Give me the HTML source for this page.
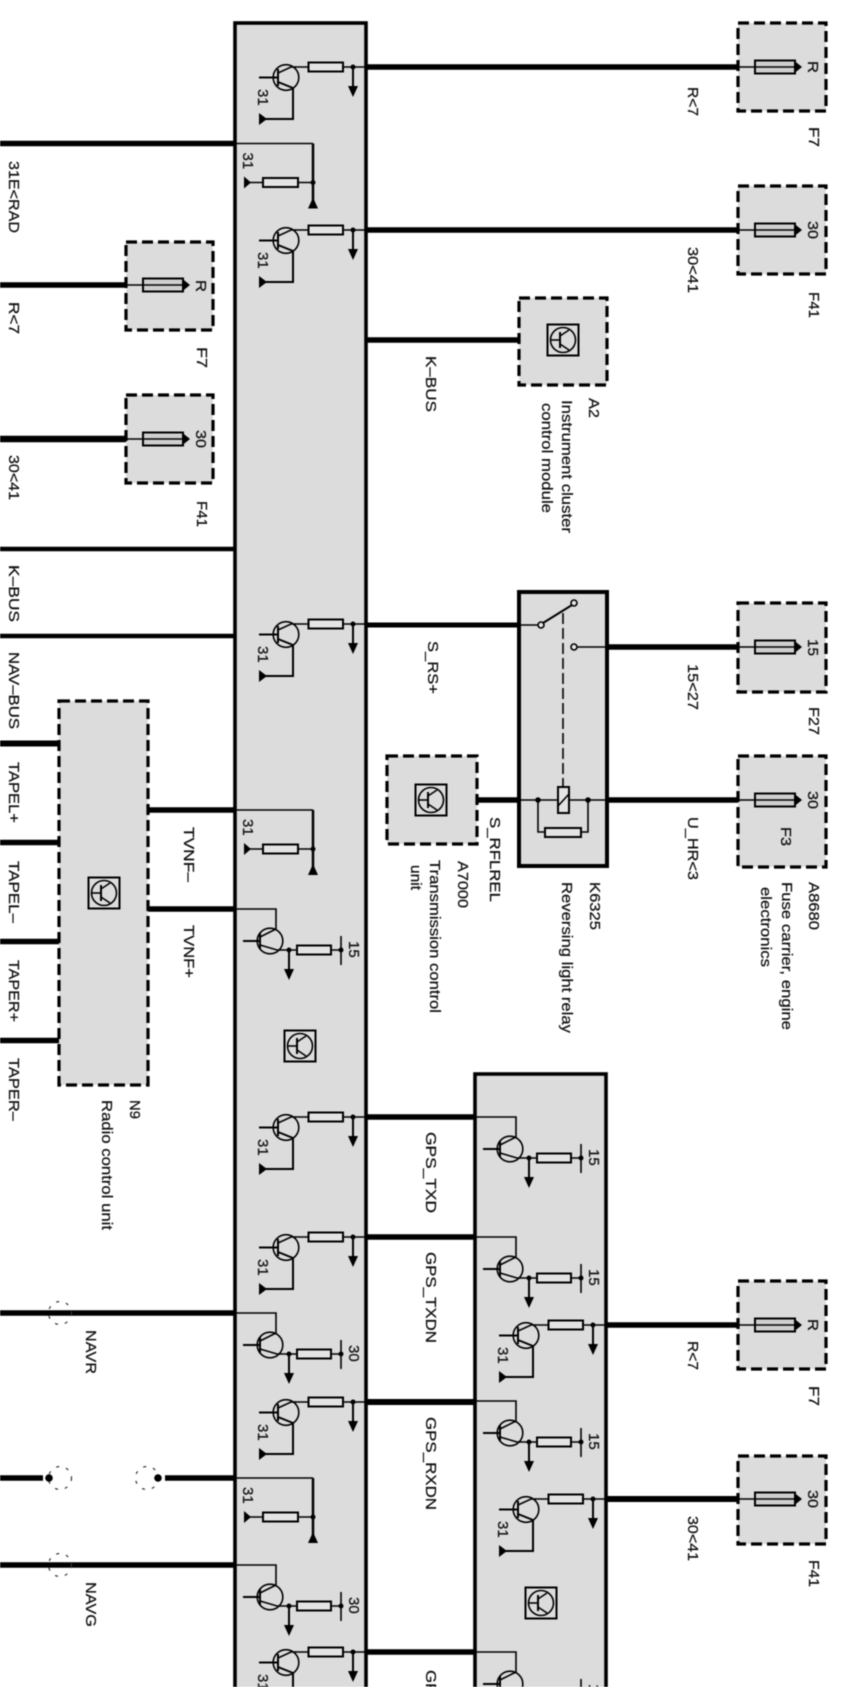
<!DOCTYPE html>
<html><head><meta charset="utf-8"><style>
html,body{margin:0;padding:0;background:#fff}
svg{display:block;filter:blur(.4px)}
text{font-family:"Liberation Sans",sans-serif;font-size:15px;fill:#111;stroke:#111;stroke-width:.25px}
</style></head><body>
<svg xmlns="http://www.w3.org/2000/svg" width="861" height="1687" viewBox="0 0 861 1687">
<defs>
<g id="A" fill="none" stroke="#000" stroke-width="1.6">
<line x1="295" y1="0" x2="366" y2="0"/>
<rect x="308.5" y="-4.5" width="34.5" height="9" fill="#e4e4e4" stroke-width="2"/>
<circle cx="286" cy="10.5" r="12.8"/>
<line x1="259" y1="10.5" x2="278" y2="10.5" stroke-width="2"/>
<line x1="278" y1="2" x2="278" y2="19" stroke-width="2"/>
<polyline points="278,6 291,0 296,0"/>
<polyline points="278,15 293,21 293,52 263,52" stroke-width="2"/>
<circle cx="353" cy="0" r="2.5" fill="#000" stroke="none"/>
<line x1="353" y1="0" x2="353" y2="20" stroke-width="2"/>
<polygon points="348,19 358,19 353,30" fill="#000" stroke="none"/>
<polygon points="259,46 259,58 267,52" fill="#000" stroke="none"/>
<text transform="translate(258,22) rotate(90)">31</text>
</g>
<g id="B" fill="none" stroke="#000" stroke-width="1.6">
<polyline points="235,0 276,0 276,20" />
<circle cx="270" cy="32" r="12.8"/>
<line x1="243" y1="32" x2="260" y2="32" stroke-width="2"/>
<line x1="260" y1="24" x2="260" y2="40" stroke-width="2"/>
<line x1="260" y1="28" x2="276" y2="20"/>
<polyline points="260,36 277,41 341,41"/>
<rect x="297" y="36.5" width="34" height="9" fill="#e4e4e4" stroke-width="2"/>
<line x1="341" y1="27" x2="341" y2="56"/>
<circle cx="341" cy="41" r="2.5" fill="#000" stroke="none"/>
<circle cx="289" cy="41" r="2.5" fill="#000" stroke="none"/>
<line x1="289" y1="41" x2="289" y2="61" stroke-width="2"/>
<polygon points="284,60 294,60 289,71" fill="#000" stroke="none"/>
</g>
<g id="C" fill="none" stroke="#000" stroke-width="1.6">
<polyline points="235,0 313,0"/>
<line x1="313" y1="0" x2="313" y2="60" stroke-width="2.5"/>
<polygon points="308,65 318,65 313,54" fill="#000" stroke="none"/>
<line x1="249" y1="39" x2="313" y2="39"/>
<rect x="263" y="34.5" width="35" height="9" fill="#e4e4e4" stroke-width="2"/>
<circle cx="313" cy="39" r="2.5" fill="#000" stroke="none"/>
<polygon points="244,33 244,45 251,39" fill="#000" stroke="none"/>
<text transform="translate(243,9) rotate(90)">31</text>
</g>
<g id="I" fill="none" stroke="#000">
<rect x="-15.5" y="-15.5" width="31" height="31" stroke-width="2"/>
<circle cx="0" cy="0" r="12.5" stroke-width="1.6"/>
<line x1="-12.5" y1="0" x2="-3" y2="0" stroke-width="1.6"/>
<line x1="-3" y1="-8" x2="-3" y2="8" stroke-width="2"/>
<polyline points="-3,-4 6,-10" stroke-width="1.6"/>
<polyline points="-3,4 6,10" stroke-width="1.6"/>
</g>
<g id="F" fill="none" stroke="#000">
<line x1="-17" y1="0" x2="42" y2="0" stroke-width="1.5"/>
<rect x="0" y="-6.5" width="40" height="13" fill="#cfcfcf" stroke-width="2"/>
<line x1="0" y1="0" x2="42" y2="0" stroke-width="1.5"/>
<polygon points="39,-6.5 47,0 39,6.5" fill="#000" stroke="none"/>
</g>
</defs>

<!-- boxes -->
<rect x="235" y="23" width="131" height="1690" fill="#dcdcdc" stroke="#000" stroke-width="3.6"/>
<rect x="475" y="1074" width="131" height="640" fill="#dcdcdc" stroke="#000" stroke-width="3.6"/>
<rect x="519" y="592" width="88" height="274" fill="#dcdcdc" stroke="#000" stroke-width="4"/>
<g fill="#dcdcdc" stroke="#000" stroke-width="3.2" stroke-dasharray="11 5">
<rect x="738" y="23" width="88" height="88"/>
<rect x="738" y="186" width="88" height="88"/>
<rect x="519" y="298" width="88" height="87"/>
<rect x="126" y="242" width="87" height="88"/>
<rect x="126" y="395" width="87" height="88"/>
<rect x="738" y="603" width="88" height="89"/>
<rect x="738" y="756" width="88" height="111"/>
<rect x="387" y="756" width="90" height="88"/>
<rect x="59" y="701" width="89" height="384"/>
<rect x="738" y="1281" width="88" height="88"/>
<rect x="738" y="1456" width="88" height="88"/>
</g>

<!-- thick wires -->
<g stroke="#000" stroke-width="5.5" fill="none">
<line x1="366" y1="67" x2="738" y2="67"/>
<line x1="366" y1="230" x2="738" y2="230"/>
<line x1="366" y1="340" x2="519" y2="340"/>
<line x1="0" y1="143.5" x2="235" y2="143.5"/>
<line x1="0" y1="285" x2="126" y2="285"/>
<line x1="0" y1="439" x2="126" y2="439" stroke-width="6.5"/>
<line x1="0" y1="549" x2="235" y2="549" stroke-width="4.5"/>
<line x1="0" y1="636" x2="235" y2="636" stroke-width="4.5"/>
<line x1="366" y1="625" x2="519" y2="625" stroke-width="5"/>
<line x1="607" y1="647" x2="738" y2="647"/>
<line x1="607" y1="800" x2="738" y2="800"/>
<line x1="477" y1="800" x2="519" y2="800"/>
<line x1="0" y1="743.5" x2="59" y2="743.5" stroke-width="6"/>
<line x1="0" y1="842.5" x2="59" y2="842.5"/>
<line x1="0" y1="941.5" x2="59" y2="941.5"/>
<line x1="0" y1="1040.5" x2="59" y2="1040.5"/>
<line x1="148" y1="810" x2="235" y2="810"/>
<line x1="148" y1="909" x2="235" y2="909"/>
<line x1="366" y1="1117" x2="475" y2="1117"/>
<line x1="366" y1="1237" x2="475" y2="1237"/>
<line x1="366" y1="1402" x2="475" y2="1402" stroke-width="6"/>
<line x1="366" y1="1652" x2="475" y2="1652"/>
<line x1="606" y1="1325" x2="738" y2="1325"/>
<line x1="606" y1="1499" x2="738" y2="1499" stroke-width="6"/>
<line x1="0" y1="1313" x2="235" y2="1313"/>
<line x1="0" y1="1565" x2="235" y2="1565"/>
<line x1="0" y1="1478" x2="43" y2="1478"/>
<line x1="165" y1="1478" x2="235" y2="1478"/>
</g>

<!-- connector points -->
<g fill="none" stroke="#333" stroke-width="1.2" stroke-dasharray="3 7">
<circle cx="60" cy="1313" r="11.5"/>
<circle cx="60" cy="1565" r="11.5"/>
<circle cx="60" cy="1478" r="11.5"/>
<circle cx="147" cy="1478" r="11.5"/>
</g>
<circle cx="49" cy="1478" r="3.8"/>
<circle cx="158" cy="1478" r="3.8"/>

<!-- modules -->
<use href="#A" y="67"/>
<use href="#A" y="230"/>
<use href="#A" y="624"/>
<use href="#A" y="1117"/>
<use href="#A" y="1237"/>
<use href="#A" y="1402"/>
<use href="#A" y="1652"/>
<use href="#C" y="143.5"/>
<use href="#C" y="810"/>
<use href="#C" y="1478"/>
<use href="#B" y="909"/>
<use href="#B" y="1313"/>
<use href="#B" y="1565"/>
<use href="#B" x="240" y="1117"/>
<use href="#B" x="240" y="1237"/>
<use href="#B" x="240" y="1401"/>
<use href="#B" x="240" y="1652"/>
<use href="#A" x="240" y="1325"/>
<use href="#A" x="240" y="1499"/>

<!-- ECU icons -->
<use href="#I" x="300" y="1046"/>
<use href="#I" x="541" y="1603"/>
<use href="#I" x="104" y="893"/>
<use href="#I" x="563" y="340"/>
<use href="#I" x="431" y="800"/>

<!-- fuses -->
<use href="#F" x="755" y="67"/>
<use href="#F" x="755" y="230"/>
<use href="#F" x="143" y="285"/>
<use href="#F" x="143" y="439"/>
<use href="#F" x="755" y="647"/>
<use href="#F" x="755" y="800"/>
<use href="#F" x="755" y="1325"/>
<use href="#F" x="755" y="1499"/>

<!-- relay -->
<g fill="none" stroke="#000" stroke-width="1.6">
<line x1="519" y1="625" x2="538" y2="625"/>
<line x1="543" y1="623" x2="572" y2="605" stroke-width="2"/>
<circle cx="541" cy="625" r="3" fill="#e8e8e8"/>
<circle cx="574" cy="603" r="3" fill="#e8e8e8"/>
<circle cx="574" cy="647" r="3" fill="#e8e8e8"/>
<line x1="577" y1="647" x2="607" y2="647"/>
<line x1="563" y1="613" x2="563" y2="787" stroke-dasharray="11 4"/>
<line x1="519" y1="800" x2="607" y2="800"/>
<rect x="558" y="787" width="11" height="26" fill="#e4e4e4" stroke-width="2"/>
<line x1="558" y1="806" x2="569" y2="794"/>
<polyline points="538,800 538,832 545,832"/>
<polyline points="581,832 588,832 588,800"/>
<rect x="545" y="828" width="36" height="9" fill="#e4e4e4" stroke-width="2"/>
<circle cx="538" cy="800" r="2.8" fill="#000" stroke="none"/>
<circle cx="588" cy="800" r="2.8" fill="#000" stroke="none"/>
</g>

<!-- labels -->
<g>
<text transform="translate(9,161) rotate(90)" textLength="72" lengthAdjust="spacingAndGlyphs">31E&lt;RAD</text>
<text transform="translate(9,302) rotate(90)" textLength="32" lengthAdjust="spacingAndGlyphs">R&lt;7</text>
<text transform="translate(9,455) rotate(90)" textLength="45" lengthAdjust="spacingAndGlyphs">30&lt;41</text>
<text transform="translate(9,565) rotate(90)" textLength="57" lengthAdjust="spacingAndGlyphs">K–BUS</text>
<text transform="translate(9,652) rotate(90)" textLength="77" lengthAdjust="spacingAndGlyphs">NAV–BUS</text>
<text transform="translate(9,762) rotate(90)" textLength="61" lengthAdjust="spacingAndGlyphs">TAPEL+</text>
<text transform="translate(9,861) rotate(90)" textLength="62" lengthAdjust="spacingAndGlyphs">TAPEL–</text>
<text transform="translate(9,960) rotate(90)" textLength="62" lengthAdjust="spacingAndGlyphs">TAPER+</text>
<text transform="translate(9,1058) rotate(90)" textLength="63" lengthAdjust="spacingAndGlyphs">TAPER–</text>
<text transform="translate(197,347) rotate(90)" textLength="21" lengthAdjust="spacingAndGlyphs">F7</text>
<text transform="translate(197,501) rotate(90)" textLength="26" lengthAdjust="spacingAndGlyphs">F41</text>
<text transform="translate(196,280) rotate(90)" textLength="12" lengthAdjust="spacingAndGlyphs">R</text>
<text transform="translate(196,430) rotate(90)" textLength="18" lengthAdjust="spacingAndGlyphs">30</text>
<text transform="translate(808,61) rotate(90)" textLength="12" lengthAdjust="spacingAndGlyphs">R</text>
<text transform="translate(808,221) rotate(90)" textLength="18" lengthAdjust="spacingAndGlyphs">30</text>
<text transform="translate(808,639) rotate(90)" textLength="17" lengthAdjust="spacingAndGlyphs">15</text>
<text transform="translate(808,791) rotate(90)" textLength="18" lengthAdjust="spacingAndGlyphs">30</text>
<text transform="translate(808,1319) rotate(90)" textLength="12" lengthAdjust="spacingAndGlyphs">R</text>
<text transform="translate(808,1490) rotate(90)" textLength="18" lengthAdjust="spacingAndGlyphs">30</text>
<text transform="translate(688,87) rotate(90)" textLength="29" lengthAdjust="spacingAndGlyphs">R&lt;7</text>
<text transform="translate(688,247) rotate(90)" textLength="46" lengthAdjust="spacingAndGlyphs">30&lt;41</text>
<text transform="translate(688,1341) rotate(90)" textLength="29" lengthAdjust="spacingAndGlyphs">R&lt;7</text>
<text transform="translate(688,1516) rotate(90)" textLength="45" lengthAdjust="spacingAndGlyphs">30&lt;41</text>
<text transform="translate(809,127) rotate(90)" textLength="20" lengthAdjust="spacingAndGlyphs">F7</text>
<text transform="translate(809,292) rotate(90)" textLength="26" lengthAdjust="spacingAndGlyphs">F41</text>
<text transform="translate(809,1386) rotate(90)" textLength="20" lengthAdjust="spacingAndGlyphs">F7</text>
<text transform="translate(809,1560) rotate(90)" textLength="27" lengthAdjust="spacingAndGlyphs">F41</text>
<text transform="translate(426,356) rotate(90)" textLength="56" lengthAdjust="spacingAndGlyphs">K–BUS</text>
<text transform="translate(589,398) rotate(90)" textLength="20" lengthAdjust="spacingAndGlyphs">A2</text>
<text transform="translate(562,400) rotate(90)" textLength="133" lengthAdjust="spacingAndGlyphs">Instrument cluster</text>
<text transform="translate(542,403) rotate(90)" textLength="110" lengthAdjust="spacingAndGlyphs">control module</text>
<text transform="translate(428,641) rotate(90)" textLength="53" lengthAdjust="spacingAndGlyphs">S_RS+</text>
<text transform="translate(688,664) rotate(90)" textLength="46" lengthAdjust="spacingAndGlyphs">15&lt;27</text>
<text transform="translate(688,817) rotate(90)" textLength="63" lengthAdjust="spacingAndGlyphs">U_HR&lt;3</text>
<text transform="translate(809,707) rotate(90)" textLength="28" lengthAdjust="spacingAndGlyphs">F27</text>
<text transform="translate(781,827) rotate(90)" textLength="19" lengthAdjust="spacingAndGlyphs">F3</text>
<text transform="translate(809,882) rotate(90)" textLength="48" lengthAdjust="spacingAndGlyphs">A8680</text>
<text transform="translate(782,882) rotate(90)" textLength="148" lengthAdjust="spacingAndGlyphs">Fuse carrier, engine</text>
<text transform="translate(761,887) rotate(90)" textLength="80" lengthAdjust="spacingAndGlyphs">electronics</text>
<text transform="translate(590,882) rotate(90)" textLength="48" lengthAdjust="spacingAndGlyphs">K6325</text>
<text transform="translate(562,882) rotate(90)" textLength="151" lengthAdjust="spacingAndGlyphs">Reversing light relay</text>
<text transform="translate(490,817) rotate(90)" textLength="85" lengthAdjust="spacingAndGlyphs">S_RFLREL</text>
<text transform="translate(458,861) rotate(90)" textLength="47" lengthAdjust="spacingAndGlyphs">A7000</text>
<text transform="translate(430,860) rotate(90)" textLength="153" lengthAdjust="spacingAndGlyphs">Transmission control</text>
<text transform="translate(411,865) rotate(90)" textLength="25" lengthAdjust="spacingAndGlyphs">unit</text>
<text transform="translate(184,827) rotate(90)" textLength="55" lengthAdjust="spacingAndGlyphs">TVNF–</text>
<text transform="translate(184,925) rotate(90)" textLength="53" lengthAdjust="spacingAndGlyphs">TVNF+</text>
<text transform="translate(130,1100) rotate(90)" textLength="19" lengthAdjust="spacingAndGlyphs">N9</text>
<text transform="translate(102,1100) rotate(90)" textLength="130" lengthAdjust="spacingAndGlyphs">Radio control unit</text>
<text transform="translate(426,1132) rotate(90)" textLength="81" lengthAdjust="spacingAndGlyphs">GPS_TXD</text>
<text transform="translate(426,1252) rotate(90)" textLength="91" lengthAdjust="spacingAndGlyphs">GPS_TXDN</text>
<text transform="translate(426,1417) rotate(90)" textLength="93" lengthAdjust="spacingAndGlyphs">GPS_RXDN</text>
<text transform="translate(426,1670) rotate(90)" textLength="81" lengthAdjust="spacingAndGlyphs">GPS_RXD</text>
<text transform="translate(86,1330) rotate(90)" textLength="44" lengthAdjust="spacingAndGlyphs">NAVR</text>
<text transform="translate(86,1582) rotate(90)" textLength="45" lengthAdjust="spacingAndGlyphs">NAVG</text>
<text transform="translate(349,941) rotate(90)">15</text>
<text transform="translate(349,1345) rotate(90)">30</text>
<text transform="translate(349,1597) rotate(90)">30</text>
<text transform="translate(589,1149) rotate(90)">15</text>
<text transform="translate(589,1269) rotate(90)">15</text>
<text transform="translate(589,1433) rotate(90)">15</text>
<text transform="translate(589,1684) rotate(90)">15</text>
</g>
</svg>
</body></html>
